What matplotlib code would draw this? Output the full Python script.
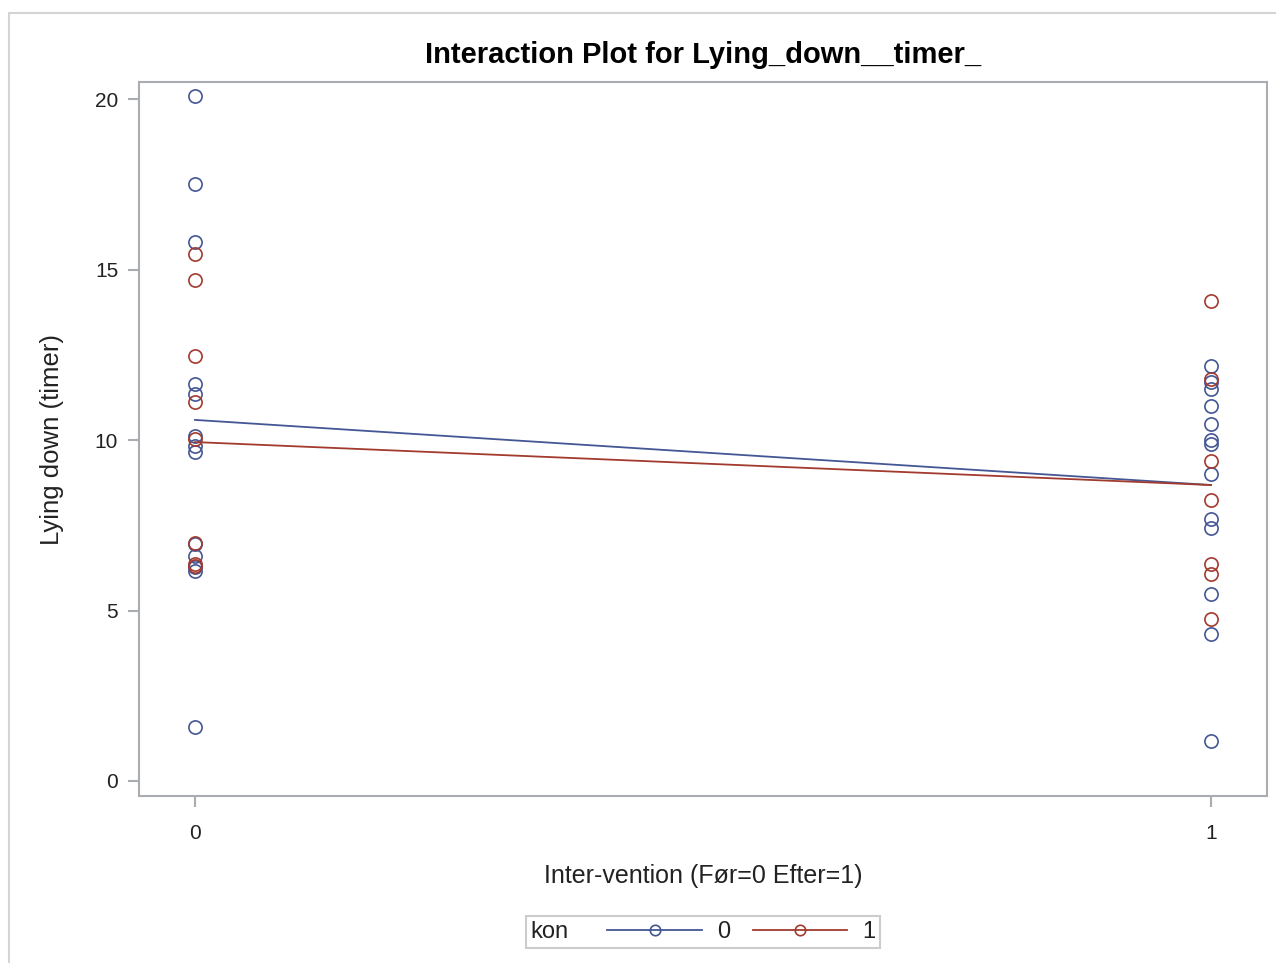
import matplotlib
matplotlib.use('Agg')
import matplotlib.pyplot as plt
from matplotlib.lines import Line2D
from matplotlib.patches import Rectangle
from matplotlib.offsetbox import HPacker

plt.rcParams['font.family'] = ['Liberation Sans', 'DejaVu Sans']

# data
groups = ['0', '1']
x_levels = [0, 1]
kon0_x0 = [20.09, 17.51, 15.81, 11.64, 11.35, 10.13, 9.83, 9.65, 6.95, 6.6, 6.27, 6.17, 1.59]
kon0_x1 = [12.16, 11.69, 11.5, 11.0, 10.47, 10.0, 9.88, 9.0, 7.68, 7.41, 5.48, 4.31, 1.18]
kon1_x0 = [15.45, 14.69, 12.47, 11.11, 10.03, 6.98, 6.36, 6.3]
kon1_x1 = [14.08, 11.79, 9.39, 8.25, 6.36, 6.07, 4.75]
mean_kon0 = [10.59, 8.68]
mean_kon1 = [9.94, 8.68]

blue = '#445694'
red = '#a23a2e'
grey = '#a9adb2'
txt = '#222222'

fig = plt.figure(figsize=(12.76, 9.63), dpi=100)
fig.patches.append(Rectangle((9/1276, -0.1), 1.2, 1 - 13/963 + 0.1, transform=fig.transFigure,
                             fill=False, edgecolor='#d4d4d4', linewidth=1.5, zorder=-1))

ax = fig.add_axes([139/1276, 1 - 796/963, 1128/1276, 714/963])

ms = 9.5
mew = 1.2
ax.plot([x_levels[0]] * len(kon0_x0), kon0_x0, 'o', mfc='none', mec=blue, ms=ms, mew=mew)
ax.plot([x_levels[1]] * len(kon0_x1), kon0_x1, 'o', mfc='none', mec=blue, ms=ms, mew=mew)
ax.plot([x_levels[0]] * len(kon1_x0), kon1_x0, 'o', mfc='none', mec=red, ms=ms, mew=mew)
ax.plot([x_levels[1]] * len(kon1_x1), kon1_x1, 'o', mfc='none', mec=red, ms=ms, mew=mew)
ax.plot(x_levels, mean_kon0, color=blue, lw=1.3)
ax.plot(x_levels, mean_kon1, color=red, lw=1.3)

ax.set_xlim(-0.0551, 1.0551)
ax.set_ylim(-0.44, 20.5)
ax.set_xticks(x_levels)
ax.set_yticks([0, 5, 10, 15, 20])
for s in ax.spines.values():
    s.set_color(grey)
    s.set_linewidth(1.5)
ax.tick_params(axis='both', colors=grey, labelcolor=txt, labelsize=15, length=8, width=1.5)
ax.tick_params(axis='x', pad=12)
ax.tick_params(axis='y', pad=7)

ax.set_title('Interaction Plot for Lying_down__timer_', fontsize=21, fontweight='bold', pad=14)
ax.set_xlabel('Inter-vention (Før=0 Efter=1)', fontsize=18, labelpad=15, color=txt)
ax.set_ylabel('Lying down (timer)', fontsize=18.5, labelpad=22, color=txt)

handles = [Line2D([], [], color=blue, lw=1.3, marker='o', mfc='none', mec=blue, ms=7.5, mew=mew),
           Line2D([], [], color=red, lw=1.3, marker='o', mfc='none', mec=red, ms=7.5, mew=mew)]
leg = fig.legend(handles, groups, loc='center', bbox_to_anchor=(703/1276, 1 - 932/963), ncol=2,
                 title='kon', title_fontsize=17, fontsize=17, handlelength=4.0, handletextpad=0.65,
                 columnspacing=0.95, numpoints=1, fancybox=False, framealpha=1, borderpad=0.2)
for t in leg.get_texts():
    t.set_color(txt)
leg.get_title().set_color(txt)
leg.get_frame().set_edgecolor('#cccccc')
leg.get_frame().set_linewidth(1.5)
# put the legend title to the left of the entries, as in the SAS layout
box = HPacker(pad=leg.borderpad * 17, sep=28, align='center',
              children=[leg._legend_title_box, leg._legend_handle_box])
box.set_figure(fig)
leg._legend_box = box
leg._set_loc(leg._loc)

fig.savefig('out.png', dpi=100)
